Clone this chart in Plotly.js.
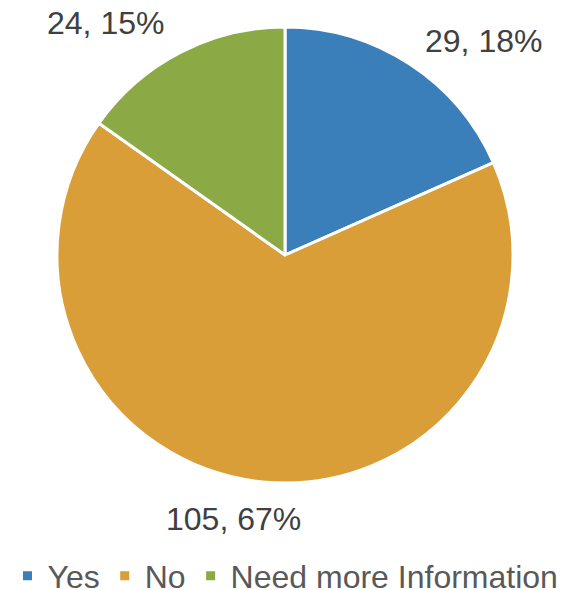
<!DOCTYPE html>
<html>
<head>
<meta charset="utf-8">
<script src="https://cdn.plot.ly/plotly-3.0.1.min.js"></script>
<style>html,body{margin:0;padding:0;background:#fff;}</style>
</head>
<body>
<div id="chart" style="width:571px;height:590px;"></div>
<script>
const categories = ["Yes", "No", "Need more Information"];
const counts = [29, 105, 24];
const percents = [18, 67, 15];
const colors = ["#3A7FBA", "#D99E38", "#8BAA45"];

const labelText = counts.map((c, i) => c + ", " + percents[i] + "%");
// label anchor positions (paper coords) for each slice label
const labelPos = [[483/571, 1 - 41/590], [233/571, 1 - 519/590], [106/571, 1 - 23/590]];

const trace = {
  type: "pie",
  labels: categories,
  values: counts,
  sort: false,
  direction: "clockwise",
  rotation: 0,
  textinfo: "none",
  hoverinfo: "none",
  marker: {colors: colors, line: {color: "#ffffff", width: 3}},
  domain: {x: [57/571, 513/571], y: [1 - 483/590, 1 - 27/590]}
};

const annotations = labelText.map((t, i) => ({
  text: t, xref: "paper", yref: "paper",
  x: labelPos[i][0], y: labelPos[i][1],
  xanchor: "center", yanchor: "middle", showarrow: false,
  font: {family: "Liberation Sans, Arial, sans-serif", size: 32, color: "#404040"}
}));

const layout = {
  width: 571, height: 590,
  margin: {l: 0, r: 0, t: 0, b: 0, autoexpand: false},
  paper_bgcolor: "#ffffff",
  showlegend: true,
  legend: {
    orientation: "h", x: 0.5, xanchor: "center", y: 1 - 576/590, yanchor: "middle",
    font: {family: "Liberation Sans, Arial, sans-serif", size: 32, color: "#595959"},
    itemwidth: 30, tracegroupgap: 0
  },
  annotations: annotations
};

Plotly.newPlot("chart", [trace], layout, {displayModeBar: false, staticPlot: true});
</script>
</body>
</html>
